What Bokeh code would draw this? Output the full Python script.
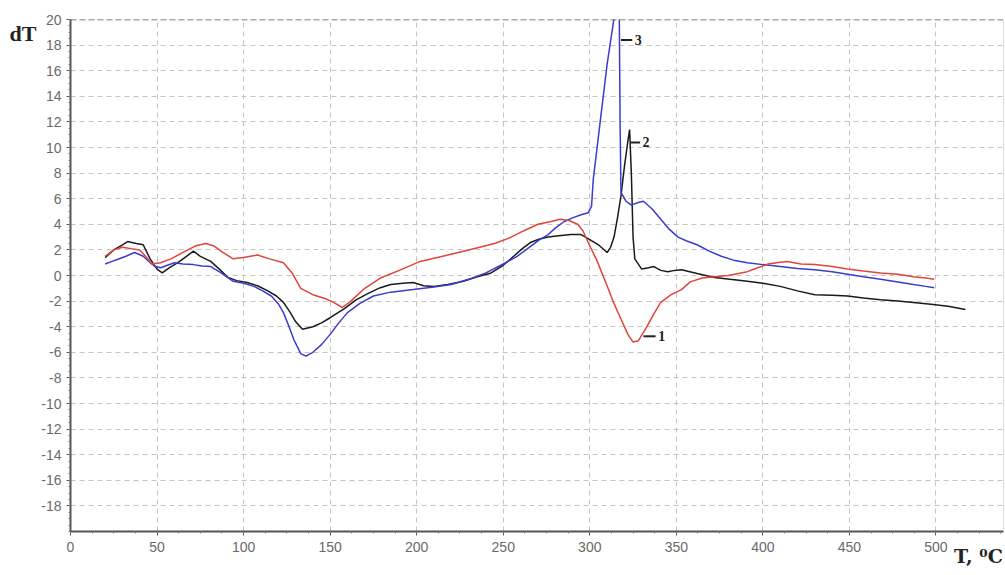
from bokeh.plotting import figure
from bokeh.models import Range1d, FixedTicker, Span, Label, LinearAxis
from bokeh.embed import file_html
from bokeh.resources import INLINE

# ---- data ----
red_T = [20, 25, 30, 35, 40, 44, 47, 52, 58, 65, 72, 78, 83, 88, 94, 100, 108, 115, 123, 128,
         133, 140, 147, 152, 157, 162, 170, 179, 190, 202, 215, 230, 245, 253, 262, 270, 277,
         283, 288, 293, 296, 299, 304, 310, 314, 318, 322, 325, 328, 333, 337, 341, 347, 353,
         358, 365, 372, 380, 391, 397, 403, 408, 414, 422, 430, 440, 449, 458, 468, 478, 487,
         494, 499]
red_dT = [1.5, 2.0, 2.2, 2.1, 2.0, 1.4, 0.9, 1.0, 1.3, 1.8, 2.3, 2.5, 2.3, 1.8, 1.3, 1.4, 1.6,
          1.3, 1.0, 0.2, -1.0, -1.5, -1.8, -2.1, -2.5, -2.0, -1.0, -0.2, 0.4, 1.1, 1.5, 2.0,
          2.5, 2.9, 3.5, 4.0, 4.2, 4.4, 4.3, 4.0, 3.5, 2.6, 1.2, -0.8, -2.2, -3.4, -4.6, -5.2,
          -5.1, -4.0, -3.0, -2.1, -1.5, -1.1, -0.5, -0.2, -0.1, 0.0, 0.3, 0.6, 0.9, 1.0, 1.1,
          0.9, 0.85, 0.7, 0.5, 0.35, 0.2, 0.1, -0.1, -0.2, -0.3]

black_T = [20, 25, 30, 33, 38, 42, 46, 50, 53, 57, 62, 67, 71, 75, 81, 86, 91, 96, 102, 108,
           114, 119, 123, 127, 130, 134, 140, 145, 150, 158, 165, 172, 179, 185, 192, 198, 204,
           210, 218, 227, 235, 243, 250, 256, 261, 266, 271, 276, 282, 289, 295, 300, 305, 310,
           312, 314, 316, 318, 320, 322, 323, 324, 325, 326, 330, 334, 337, 341, 345, 349, 353,
           362, 372, 381, 391, 400, 410, 420, 430, 440, 449, 458, 468, 478, 487, 497, 507, 517]
black_dT = [1.4, 2.0, 2.4, 2.65, 2.5, 2.4, 1.3, 0.5, 0.2, 0.6, 1.0, 1.5, 1.9, 1.5, 1.1, 0.5,
            -0.15, -0.4, -0.55, -0.8, -1.2, -1.6, -2.1, -2.9, -3.6, -4.2, -4.0, -3.7, -3.3,
            -2.6, -1.9, -1.4, -0.95, -0.7, -0.6, -0.55, -0.8, -0.85, -0.7, -0.45, -0.1, 0.2,
            0.8, 1.5, 2.1, 2.6, 2.85, 3.0, 3.1, 3.2, 3.2, 2.8, 2.4, 1.8, 2.2, 3.0, 4.5, 6.2,
            8.5, 10.5, 11.4, 8.0, 3.0, 1.3, 0.5, 0.6, 0.7, 0.4, 0.3, 0.4, 0.45, 0.15, -0.15,
            -0.3, -0.45, -0.6, -0.85, -1.2, -1.5, -1.55, -1.6, -1.75, -1.9, -2.0, -2.1, -2.25,
            -2.4, -2.65]

blue_T = [20, 24, 27, 32, 37, 42, 46, 49, 52, 56, 60, 65, 71, 76, 81, 87, 94, 100, 106, 111,
          116, 120, 123, 126, 129, 133, 136, 140, 145, 150, 155, 160, 167, 175, 185, 198, 210,
          220, 230, 240, 250, 258, 266, 271, 276, 280, 285, 290, 295, 299, 301, 302, 306, 310,
          315, 317, 317.5, 318, 321, 324, 328, 331, 336, 341, 346, 351, 356, 362, 369, 376,
          383, 391, 400, 410, 420, 430, 440, 449, 458, 468, 478, 487, 494, 499]
blue_dT = [0.9, 1.1, 1.25, 1.5, 1.8, 1.5, 1.0, 0.7, 0.6, 0.8, 1.0, 0.9, 0.85, 0.75, 0.7, 0.2,
           -0.45, -0.6, -0.85, -1.2, -1.6, -2.2, -2.9, -3.9, -5.0, -6.1, -6.3, -6.0, -5.4,
           -4.6, -3.7, -2.9, -2.2, -1.6, -1.3, -1.1, -0.9, -0.7, -0.3, 0.2, 0.9, 1.5, 2.3, 2.8,
           3.2, 3.7, 4.2, 4.5, 4.75, 4.9, 5.4, 7.5, 12.0, 16.5, 21.0, 21.0, 12.0, 6.5, 5.8,
           5.5, 5.7, 5.8, 5.2, 4.4, 3.6, 3.0, 2.7, 2.4, 1.9, 1.5, 1.2, 1.0, 0.85, 0.7, 0.55,
           0.45, 0.3, 0.1, -0.1, -0.3, -0.5, -0.7, -0.85, -0.95]

x_ticks = [0, 50, 100, 150, 200, 250, 300, 350, 400, 450, 500]
y_ticks = [-18, -16, -14, -12, -10, -8, -6, -4, -2, 0, 2, 4, 6, 8, 10, 12, 14, 16, 18, 20]
curve_labels = ["1", "2", "3"]
y_title = "dT"
x_title = "T, \u2070C"

# ---- figure ----
p = figure(width=1005, height=575, output_backend="svg", toolbar_location=None,
           x_range=Range1d(0, 539), y_range=Range1d(-20, 20),
           min_border_left=70, min_border_right=2, min_border_top=19, min_border_bottom=44)
p.outline_line_color = None
p.background_fill_color = "white"
p.border_fill_color = "white"

for ax in (p.xaxis[0], p.yaxis[0]):
    ax.axis_line_color = "#555555"
    ax.axis_line_width = 2
    ax.major_tick_line_color = "#555555"
    ax.minor_tick_line_color = "#777777"
    ax.major_tick_out = 4
    ax.major_tick_in = 0
    ax.minor_tick_out = 2
    ax.minor_tick_in = 0
    ax.major_label_text_font = "Liberation Sans"
    ax.major_label_text_font_size = "14px"
    ax.major_label_text_color = "#6a6a6a"

p.xaxis.ticker = FixedTicker(ticks=x_ticks, minor_ticks=[v * 12.5 for v in range(0, 44)])
p.yaxis.ticker = FixedTicker(ticks=y_ticks, minor_ticks=[v * 0.5 - 20 for v in range(0, 81)])
p.yaxis.major_label_overrides = {v: str(v) for v in y_ticks}
p.xaxis.major_label_standoff = 6
p.yaxis.major_label_standoff = 5

for g in (p.xgrid[0], p.ygrid[0]):
    g.grid_line_color = "#c4c4c4"
    g.grid_line_dash = "5 4"
    g.grid_line_width = 1

# axis titles placed as single-tick extra axes (outside the frame)
y_title_pos = 18.9
ax_t = LinearAxis(ticker=FixedTicker(ticks=[y_title_pos]),
                  major_label_overrides={y_title_pos: y_title},
                  axis_line_color=None, major_tick_line_color=None,
                  minor_tick_line_color=None, major_label_standoff=-4,
                  major_label_text_font="Liberation Serif",
                  major_label_text_font_style="bold",
                  major_label_text_font_size="22px",
                  major_label_text_color="#222222")
p.add_layout(ax_t, "left")

x_title_pos = 524.5
ax_b = LinearAxis(ticker=FixedTicker(ticks=[x_title_pos]),
                  major_label_overrides={x_title_pos: x_title},
                  axis_line_color=None, major_tick_line_color=None,
                  minor_tick_line_color=None, major_label_standoff=-10,
                  major_tick_out=0, major_tick_in=0,
                  major_label_text_font="DejaVu Serif",
                  major_label_text_font_style="bold",
                  major_label_text_font_size="19px",
                  major_label_text_color="#222222")
p.add_layout(ax_b, "below")

# top dashed border and right border
p.add_layout(Span(location=20, dimension="width", line_color="#555555",
                  line_dash="6 3", line_width=1.5))
p.add_layout(Span(location=539, dimension="height", line_color="#bbbbbb", line_width=1))

# ---- curves ----
p.line(black_T, black_dT, line_color="#1a1a1a", line_width=1.5)
p.line(blue_T, blue_dT, line_color="#3b3bd0", line_width=1.5)
p.line(red_T, red_dT, line_color="#e0443c", line_width=1.5)

# ---- curve labels with leader lines ----
i2 = black_dT.index(max(black_dT))
i1 = red_dT.index(min(red_dT))
leaders = [
    (red_T[i1] + 6, red_T[i1] + 13, red_dT[i1] + 0.45, curve_labels[0]),
    (black_T[i2] + 0.5, black_T[i2] + 6, black_dT[i2] - 1.0, curve_labels[1]),
    (318, 324.5, 18.4, curve_labels[2]),
]
for x0, x1, yy, txt in leaders:
    p.segment(x0=[x0], y0=[yy], x1=[x1], y1=[yy], line_color="#222222", line_width=2)
    p.add_layout(Label(x=x1 + 1.5, y=yy, text=txt, text_font="Liberation Serif",
                       text_font_style="bold", text_font_size="14px",
                       text_baseline="middle", text_align="left", text_color="#222222"))

open("out.html", "w").write(file_html(p, INLINE))
